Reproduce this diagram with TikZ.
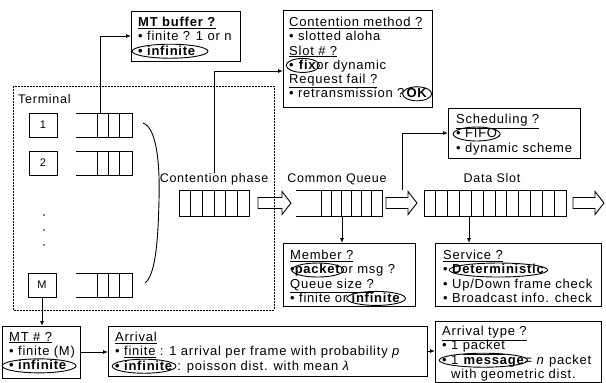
\documentclass[tikz,border=0pt]{standalone}
\usepackage{fontspec}
\setmainfont{Liberation Sans}[LetterSpace=6]
\usetikzlibrary{calc,arrows.meta}

\newcommand\ring[2][0]{\tikz[baseline=(rg.base)]{\node[shape=rectangle,anchor=base,inner sep=0pt,outer sep=0pt,draw=none] (rg) {#2};\draw[overlay,line width=0.9pt] let \p1=($(rg.east)-(rg.west)$) in ([yshift=3.8pt]rg.base) ellipse [x radius={0.5*\x1+3pt+#1pt}, y radius=7pt];}}

\newcommand\harrow[2]{\draw[line width=0.9pt] let \p1=(#1), \p2=(#2) in (\x1,\y1+5.5pt) -- (\x2-9pt,\y1+5.5pt) -- (\x2-9pt,\y1+11.5pt) -- (\x2,\y1) -- (\x2-9pt,\y1-11.5pt) -- (\x2-9pt,\y1-5.5pt) -- (\x1,\y1-5.5pt) -- cycle;}

\begin{document}
\begin{tikzpicture}[x=1pt,y=-1pt]
\useasboundingbox (0,0) rectangle (606,383);
\tikzset{
 panel/.style={draw, line width=1pt, anchor=north west, inner sep=0pt, outer sep=0pt},
 ptext/.style={anchor=north west, inner sep=0pt, align=left, font=\fontsize{13}{14.2}\selectfont},
 lbl/.style={inner sep=0pt, font=\fontsize{12.5}{14}\selectfont},
 term/.style={draw, line width=0.9pt, minimum width=28pt, minimum height=24pt, inner sep=0pt, font=\fontsize{11}{13}\selectfont},
 qslot/.style={inner sep=0pt, outer sep=0pt, minimum height=24pt},
 conn/.style={line width=0.9pt, -{Latex[length=5pt,width=4pt]}},
 qline/.style={line width=0.9pt},
}

% terminal region
\draw[dash pattern=on 1.8pt off 1.2pt, line width=0.7pt] (13,86) rectangle (274,310);
\node[lbl, anchor=base west] (termtxt) at (18,103) {Terminal};
\node[term] (t1) at (43,125) {1};
\node[term] (t2) at (43,163) {2};
\node[term] (tm) at (42,285) {M};
\node[qslot, minimum width=56pt] (q1) at (104,125) {};
\node[qslot, minimum width=56pt] (q2) at (104,163) {};
\node[qslot, minimum width=56pt] (qm) at (104,285) {};
\foreach \q in {q1,q2,qm}{
 \draw[qline] (\q.north west) -- (\q.north east) -- (\q.south east) -- (\q.south west);
 \foreach \d in {21,32,43} \draw[qline] ([xshift=\d pt]\q.north west) -- ([xshift=\d pt]\q.south west);
}
\foreach \yy in {215,230,245} \fill (44,\yy) circle (0.9);
\draw[line width=0.9pt] (143,123) .. controls (157,128) and (160,165) .. (159,200) .. controls (158,245) and (155,275) .. (145,283);

% contention phase queue
\node[lbl, anchor=base] (cptxt) at (214,182) {Contention phase};
\node[qslot, draw, line width=0.9pt, minimum width=70pt, minimum height=26pt] (cp) at (214,203) {};
\foreach \i in {1,...,5} \draw[qline] ([xshift={\i*11.667pt}]cp.north west) -- ([xshift={\i*11.667pt}]cp.south west);

% common queue
\node[lbl, anchor=base] (cqtxt) at (337,182) {Common Queue};
\node[qslot, minimum width=86pt, minimum height=26pt] (cq) at (339,203) {};
\draw[qline] (cq.north west) -- (cq.north east) -- (cq.south east) -- (cq.south west);
\foreach \i in {0,...,5} \draw[qline] ([xshift={25pt+\i*10.17pt}]cq.north west) -- ([xshift={25pt+\i*10.17pt}]cq.south west);

% data slot
\node[lbl, anchor=base] (dstxt) at (492,182) {Data Slot};
\node[qslot, draw, line width=0.9pt, minimum width=142pt, minimum height=26pt] (ds) at (495,203) {};
\foreach \i in {1,...,11} \draw[qline] ([xshift={\i*11.833pt}]ds.north west) -- ([xshift={\i*11.833pt}]ds.south west);

% hollow arrows
\harrow{[xshift=9pt]cp.east}{[xshift=-5pt]cq.west}
\harrow{[xshift=4pt]cq.east}{[xshift=-7pt]ds.west}
\harrow{[xshift=7pt]ds.east}{[xshift=38pt]ds.east}

% panels
\node[panel, minimum width=109pt, minimum height=50pt] (mtb) at (131,11) {};
\node[ptext] (mtbt) at ([shift={(7,6)}]mtb.north west) {\underline{\textbf{MT buffer ?}}\\ • finite ? 1 or n\\ \ring[3]{\textbf{• infinite}\hspace{6pt}}};

\node[panel, minimum width=149pt, minimum height=97pt] (cm) at (283,10) {};
\node[ptext] (cmt) at ([shift={(6,7)}]cm.north west) {\underline{Contention method ?}\\ • slotted aloha\\ \underline{Slot \# ?}\\ \ring{• \textbf{fix}}or dynamic\\ \underline{Request fail ?}\\ • retransmission ?\,\ring[1]{\textbf{OK}}};

\node[panel, minimum width=132pt, minimum height=50pt] (sch) at (448,108) {};
\node[ptext] (scht) at ([shift={(8,6)}]sch.north west) {\underline{Scheduling ?}\\ \ring{• FIFO}.\\ • dynamic scheme};

\node[panel, minimum width=132pt, minimum height=63pt] (mem) at (283,243) {};
\node[ptext] (memt) at ([shift={(7,7)}]mem.north west) {\underline{Member ?}\\ •\ring{\textbf{packet}}or msg ?\\ \underline{Queue size ?}\\ • finite or \ring[2]{\textbf{infinite}}};

\node[panel, minimum width=166pt, minimum height=63pt] (srv) at (435,243) {};
\node[ptext] (srvt) at ([shift={(8,7)}]srv.north west) {\underline{Service ?}\\ • \ring{\textbf{Deterministic}}\\ • Up/Down frame check\\ • Broadcast info. check};

\node[panel, minimum width=78pt, minimum height=52pt] (mtn) at (2,326) {};
\node[ptext] (mtnt) at ([shift={(7,6)}]mtn.north west) {\underline{MT \# ?}\\ • finite (M)\\ \ring[4]{\textbf{• infinite}\hspace{2pt}}};

\node[panel, minimum width=319pt, minimum height=50pt] (arr) at (108,326) {};
\node[ptext] (arrt) at ([shift={(7,6)}]arr.north west) {\underline{Arrival}\\ • \underline{finite} : 1 arrival per frame with probability \textit{p}\\ \ring{\textbf{• infinite}} : poisson dist. with mean \textit{λ}};

\node[panel, minimum width=166pt, minimum height=61pt] (aty) at (435,321) {};
\node[ptext] (atyt) at ([shift={(7,5)}]aty.north west) {\underline{Arrival type ?}\\ • 1 \underline{packet}\\ \ring{• 1 \textbf{message}}= \textit{n} packet\\ \phantom{• }with geometric dist.};

% connectors
\draw[conn] ([xshift=-4pt]q1.north) |- (mtb.west);
\draw[conn] (cptxt.north) |- ([yshift=-12.5pt]cm.west);
\coordinate (sq) at (402,190);
\draw[conn] (sq) |- (sch.west);
\draw[conn] ([xshift=3pt]cq.south) -- ([xshift=3pt]cq.south |- mem.north);
\draw[conn] ([xshift=-26pt]ds.south) -- ([xshift=-26pt]ds.south |- srv.north);
\draw[conn] (tm.south) -- (tm.south |- mtn.north);
\draw[conn] (mtn.east) -- (mtn.east -| arr.west);
\draw[conn] (arr.east) -- (arr.east -| aty.west);
\end{tikzpicture}
\end{document}
